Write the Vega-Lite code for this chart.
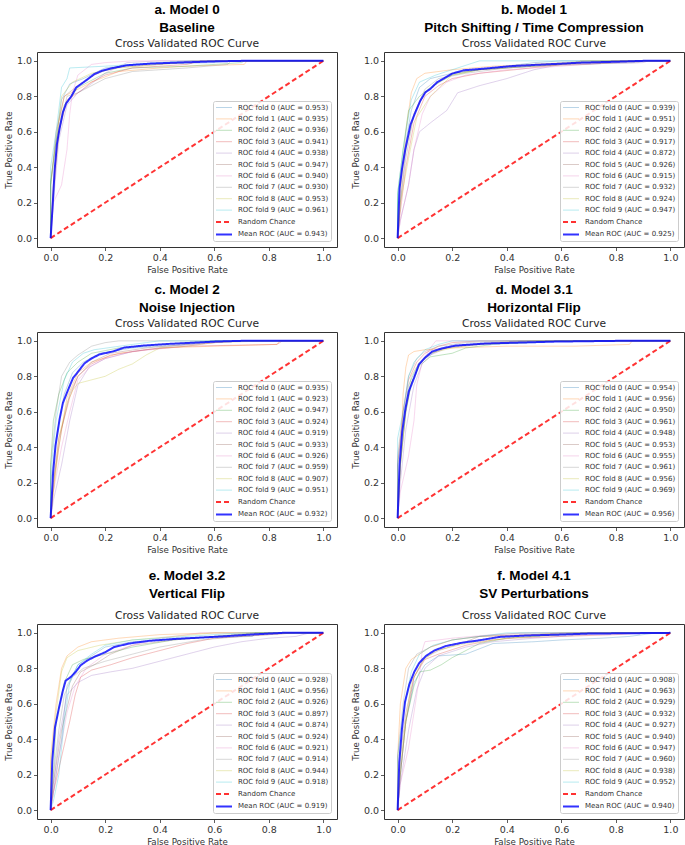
{
"$schema": "https://vega.github.io/schema/vega-lite/v6.json",
"padding": {"left": 3, "top": 2, "right": 0, "bottom": 0},
"datasets": {
"a": [
{"s":"0","x":0,"y":0},{"s":"0","x":0,"y":0.3},{"s":"0","x":0.02,"y":0.55},{"s":"0","x":0.04,"y":0.78},{"s":"0","x":0.07,"y":0.87},{"s":"0","x":0.12,"y":0.9},{"s":"0","x":0.2,"y":0.96},{"s":"0","x":0.3,"y":0.98},{"s":"0","x":0.6,"y":0.99},{"s":"0","x":0.65,"y":1},{"s":"0","x":1,"y":1},
{"s":"1","x":0,"y":0},{"s":"1","x":0.01,"y":0.3},{"s":"1","x":0.03,"y":0.65},{"s":"1","x":0.05,"y":0.8},{"s":"1","x":0.1,"y":0.84},{"s":"1","x":0.15,"y":0.88},{"s":"1","x":0.25,"y":0.94},{"s":"1","x":0.4,"y":0.96},{"s":"1","x":0.5,"y":0.97},{"s":"1","x":0.71,"y":0.98},{"s":"1","x":0.72,"y":1},{"s":"1","x":1,"y":1},
{"s":"2","x":0,"y":0},{"s":"2","x":0,"y":0.32},{"s":"2","x":0.02,"y":0.55},{"s":"2","x":0.05,"y":0.75},{"s":"2","x":0.1,"y":0.85},{"s":"2","x":0.2,"y":0.93},{"s":"2","x":0.3,"y":0.96},{"s":"2","x":0.5,"y":0.97},{"s":"2","x":0.7,"y":0.99},{"s":"2","x":0.71,"y":1},{"s":"2","x":1,"y":1},
{"s":"3","x":0,"y":0},{"s":"3","x":0.01,"y":0.25},{"s":"3","x":0.03,"y":0.6},{"s":"3","x":0.06,"y":0.78},{"s":"3","x":0.11,"y":0.83},{"s":"3","x":0.15,"y":0.88},{"s":"3","x":0.2,"y":0.92},{"s":"3","x":0.3,"y":0.96},{"s":"3","x":0.5,"y":0.98},{"s":"3","x":0.55,"y":1},{"s":"3","x":1,"y":1},
{"s":"4","x":0,"y":0},{"s":"4","x":0.01,"y":0.2},{"s":"4","x":0.03,"y":0.55},{"s":"4","x":0.06,"y":0.75},{"s":"4","x":0.1,"y":0.82},{"s":"4","x":0.14,"y":0.86},{"s":"4","x":0.2,"y":0.93},{"s":"4","x":0.28,"y":0.99},{"s":"4","x":0.4,"y":1},{"s":"4","x":1,"y":1},
{"s":"5","x":0,"y":0},{"s":"5","x":0,"y":0.3},{"s":"5","x":0.02,"y":0.6},{"s":"5","x":0.05,"y":0.8},{"s":"5","x":0.1,"y":0.86},{"s":"5","x":0.16,"y":0.92},{"s":"5","x":0.22,"y":0.96},{"s":"5","x":0.4,"y":0.98},{"s":"5","x":0.52,"y":1},{"s":"5","x":1,"y":1},
{"s":"6","x":0,"y":0},{"s":"6","x":0.01,"y":0.2},{"s":"6","x":0.04,"y":0.3},{"s":"6","x":0.06,"y":0.5},{"s":"6","x":0.07,"y":0.7},{"s":"6","x":0.08,"y":0.82},{"s":"6","x":0.1,"y":0.92},{"s":"6","x":0.15,"y":0.98},{"s":"6","x":0.2,"y":0.99},{"s":"6","x":0.3,"y":1},{"s":"6","x":1,"y":1},
{"s":"7","x":0,"y":0},{"s":"7","x":0.01,"y":0.3},{"s":"7","x":0.03,"y":0.6},{"s":"7","x":0.06,"y":0.8},{"s":"7","x":0.1,"y":0.82},{"s":"7","x":0.15,"y":0.86},{"s":"7","x":0.2,"y":0.9},{"s":"7","x":0.3,"y":0.94},{"s":"7","x":0.5,"y":0.96},{"s":"7","x":0.65,"y":0.98},{"s":"7","x":0.66,"y":1},{"s":"7","x":1,"y":1},
{"s":"8","x":0,"y":0},{"s":"8","x":0,"y":0.3},{"s":"8","x":0.02,"y":0.55},{"s":"8","x":0.04,"y":0.8},{"s":"8","x":0.08,"y":0.88},{"s":"8","x":0.15,"y":0.93},{"s":"8","x":0.25,"y":0.96},{"s":"8","x":0.4,"y":0.98},{"s":"8","x":0.6,"y":1},{"s":"8","x":1,"y":1},
{"s":"9","x":0,"y":0},{"s":"9","x":0,"y":0.4},{"s":"9","x":0.02,"y":0.6},{"s":"9","x":0.04,"y":0.85},{"s":"9","x":0.06,"y":0.9},{"s":"9","x":0.07,"y":0.96},{"s":"9","x":0.2,"y":0.97},{"s":"9","x":0.3,"y":0.98},{"s":"9","x":0.5,"y":1},{"s":"9","x":1,"y":1},
{"s":"R","x":0,"y":0},{"s":"R","x":1,"y":1},
{"s":"M","x":0,"y":0},{"s":"M","x":0.008,"y":0.2},{"s":"M","x":0.015,"y":0.39},{"s":"M","x":0.023,"y":0.53},{"s":"M","x":0.033,"y":0.62},{"s":"M","x":0.045,"y":0.71},{"s":"M","x":0.057,"y":0.76},{"s":"M","x":0.076,"y":0.8},{"s":"M","x":0.094,"y":0.85},{"s":"M","x":0.112,"y":0.87},{"s":"M","x":0.13,"y":0.89},{"s":"M","x":0.16,"y":0.925},{"s":"M","x":0.19,"y":0.945},{"s":"M","x":0.23,"y":0.96},{"s":"M","x":0.28,"y":0.975},{"s":"M","x":0.37,"y":0.985},{"s":"M","x":0.5,"y":0.992},{"s":"M","x":0.6,"y":0.997},{"s":"M","x":0.7,"y":1},{"s":"M","x":1,"y":1}
],
"b": [
{"s":"0","x":0,"y":0},{"s":"0","x":0,"y":0.2},{"s":"0","x":0.02,"y":0.45},{"s":"0","x":0.05,"y":0.72},{"s":"0","x":0.08,"y":0.85},{"s":"0","x":0.12,"y":0.9},{"s":"0","x":0.2,"y":0.93},{"s":"0","x":0.35,"y":0.96},{"s":"0","x":0.5,"y":0.99},{"s":"0","x":0.6,"y":1},{"s":"0","x":1,"y":1},
{"s":"1","x":0,"y":0},{"s":"1","x":0.01,"y":0.25},{"s":"1","x":0.03,"y":0.6},{"s":"1","x":0.05,"y":0.82},{"s":"1","x":0.07,"y":0.9},{"s":"1","x":0.1,"y":0.93},{"s":"1","x":0.2,"y":0.95},{"s":"1","x":0.35,"y":0.97},{"s":"1","x":0.66,"y":0.99},{"s":"1","x":0.67,"y":1},{"s":"1","x":1,"y":1},
{"s":"2","x":0,"y":0},{"s":"2","x":0,"y":0.25},{"s":"2","x":0.02,"y":0.5},{"s":"2","x":0.04,"y":0.72},{"s":"2","x":0.08,"y":0.8},{"s":"2","x":0.12,"y":0.85},{"s":"2","x":0.2,"y":0.92},{"s":"2","x":0.3,"y":0.95},{"s":"2","x":0.5,"y":0.97},{"s":"2","x":0.66,"y":0.99},{"s":"2","x":0.9,"y":1},{"s":"2","x":1,"y":1},
{"s":"3","x":0,"y":0},{"s":"3","x":0.01,"y":0.15},{"s":"3","x":0.03,"y":0.4},{"s":"3","x":0.06,"y":0.65},{"s":"3","x":0.1,"y":0.8},{"s":"3","x":0.15,"y":0.86},{"s":"3","x":0.2,"y":0.9},{"s":"3","x":0.3,"y":0.93},{"s":"3","x":0.43,"y":0.95},{"s":"3","x":0.6,"y":0.98},{"s":"3","x":0.8,"y":1},{"s":"3","x":1,"y":1},
{"s":"4","x":0,"y":0},{"s":"4","x":0.01,"y":0.1},{"s":"4","x":0.04,"y":0.3},{"s":"4","x":0.06,"y":0.5},{"s":"4","x":0.08,"y":0.6},{"s":"4","x":0.12,"y":0.65},{"s":"4","x":0.18,"y":0.72},{"s":"4","x":0.22,"y":0.82},{"s":"4","x":0.3,"y":0.86},{"s":"4","x":0.4,"y":0.9},{"s":"4","x":0.5,"y":0.95},{"s":"4","x":0.6,"y":0.98},{"s":"4","x":0.9,"y":0.99},{"s":"4","x":0.92,"y":1},{"s":"4","x":1,"y":1},
{"s":"5","x":0,"y":0},{"s":"5","x":0.01,"y":0.2},{"s":"5","x":0.03,"y":0.5},{"s":"5","x":0.06,"y":0.7},{"s":"5","x":0.1,"y":0.82},{"s":"5","x":0.15,"y":0.88},{"s":"5","x":0.2,"y":0.93},{"s":"5","x":0.3,"y":0.95},{"s":"5","x":0.5,"y":0.97},{"s":"5","x":0.7,"y":0.98},{"s":"5","x":0.9,"y":1},{"s":"5","x":1,"y":1},
{"s":"6","x":0,"y":0},{"s":"6","x":0.01,"y":0.1},{"s":"6","x":0.04,"y":0.3},{"s":"6","x":0.06,"y":0.5},{"s":"6","x":0.09,"y":0.7},{"s":"6","x":0.12,"y":0.8},{"s":"6","x":0.18,"y":0.88},{"s":"6","x":0.25,"y":0.92},{"s":"6","x":0.4,"y":0.95},{"s":"6","x":0.6,"y":0.97},{"s":"6","x":0.85,"y":1},{"s":"6","x":1,"y":1},
{"s":"7","x":0,"y":0},{"s":"7","x":0.01,"y":0.2},{"s":"7","x":0.03,"y":0.45},{"s":"7","x":0.06,"y":0.7},{"s":"7","x":0.1,"y":0.84},{"s":"7","x":0.15,"y":0.9},{"s":"7","x":0.25,"y":0.93},{"s":"7","x":0.4,"y":0.96},{"s":"7","x":0.6,"y":0.98},{"s":"7","x":0.88,"y":0.99},{"s":"7","x":0.9,"y":1},{"s":"7","x":1,"y":1},
{"s":"8","x":0,"y":0},{"s":"8","x":0.01,"y":0.2},{"s":"8","x":0.04,"y":0.45},{"s":"8","x":0.07,"y":0.68},{"s":"8","x":0.12,"y":0.8},{"s":"8","x":0.16,"y":0.86},{"s":"8","x":0.2,"y":0.92},{"s":"8","x":0.3,"y":0.95},{"s":"8","x":0.5,"y":0.98},{"s":"8","x":0.7,"y":1},{"s":"8","x":1,"y":1},
{"s":"9","x":0,"y":0},{"s":"9","x":0,"y":0.25},{"s":"9","x":0.02,"y":0.5},{"s":"9","x":0.05,"y":0.78},{"s":"9","x":0.08,"y":0.88},{"s":"9","x":0.14,"y":0.92},{"s":"9","x":0.2,"y":0.95},{"s":"9","x":0.3,"y":1},{"s":"9","x":1,"y":1},
{"s":"R","x":0,"y":0},{"s":"R","x":1,"y":1},
{"s":"M","x":0,"y":0},{"s":"M","x":0.007,"y":0.28},{"s":"M","x":0.016,"y":0.39},{"s":"M","x":0.028,"y":0.5},{"s":"M","x":0.047,"y":0.64},{"s":"M","x":0.065,"y":0.71},{"s":"M","x":0.083,"y":0.775},{"s":"M","x":0.102,"y":0.823},{"s":"M","x":0.12,"y":0.842},{"s":"M","x":0.145,"y":0.88},{"s":"M","x":0.169,"y":0.9},{"s":"M","x":0.2,"y":0.928},{"s":"M","x":0.243,"y":0.947},{"s":"M","x":0.316,"y":0.956},{"s":"M","x":0.414,"y":0.97},{"s":"M","x":0.5,"y":0.977},{"s":"M","x":0.61,"y":0.985},{"s":"M","x":0.67,"y":0.99},{"s":"M","x":0.8,"y":0.995},{"s":"M","x":0.9,"y":1},{"s":"M","x":1,"y":1}
],
"c": [
{"s":"0","x":0,"y":0},{"s":"0","x":0,"y":0.2},{"s":"0","x":0.02,"y":0.45},{"s":"0","x":0.05,"y":0.7},{"s":"0","x":0.08,"y":0.82},{"s":"0","x":0.12,"y":0.88},{"s":"0","x":0.18,"y":0.93},{"s":"0","x":0.3,"y":0.96},{"s":"0","x":0.5,"y":0.98},{"s":"0","x":0.6,"y":1},{"s":"0","x":1,"y":1},
{"s":"1","x":0,"y":0},{"s":"1","x":0.01,"y":0.15},{"s":"1","x":0.03,"y":0.4},{"s":"1","x":0.06,"y":0.68},{"s":"1","x":0.1,"y":0.82},{"s":"1","x":0.15,"y":0.88},{"s":"1","x":0.25,"y":0.93},{"s":"1","x":0.4,"y":0.96},{"s":"1","x":0.6,"y":0.97},{"s":"1","x":0.83,"y":0.98},{"s":"1","x":0.84,"y":1},{"s":"1","x":1,"y":1},
{"s":"2","x":0,"y":0},{"s":"2","x":0,"y":0.3},{"s":"2","x":0.01,"y":0.55},{"s":"2","x":0.03,"y":0.7},{"s":"2","x":0.06,"y":0.82},{"s":"2","x":0.1,"y":0.88},{"s":"2","x":0.15,"y":0.93},{"s":"2","x":0.25,"y":0.96},{"s":"2","x":0.4,"y":0.98},{"s":"2","x":0.6,"y":1},{"s":"2","x":1,"y":1},
{"s":"3","x":0,"y":0},{"s":"3","x":0.01,"y":0.2},{"s":"3","x":0.03,"y":0.45},{"s":"3","x":0.07,"y":0.68},{"s":"3","x":0.1,"y":0.8},{"s":"3","x":0.15,"y":0.87},{"s":"3","x":0.22,"y":0.92},{"s":"3","x":0.35,"y":0.95},{"s":"3","x":0.5,"y":0.97},{"s":"3","x":0.83,"y":0.98},{"s":"3","x":0.85,"y":1},{"s":"3","x":1,"y":1},
{"s":"4","x":0,"y":0},{"s":"4","x":0.01,"y":0.1},{"s":"4","x":0.04,"y":0.3},{"s":"4","x":0.07,"y":0.55},{"s":"4","x":0.1,"y":0.75},{"s":"4","x":0.14,"y":0.85},{"s":"4","x":0.2,"y":0.9},{"s":"4","x":0.3,"y":0.94},{"s":"4","x":0.45,"y":0.97},{"s":"4","x":0.6,"y":0.99},{"s":"4","x":0.7,"y":1},{"s":"4","x":1,"y":1},
{"s":"5","x":0,"y":0},{"s":"5","x":0.01,"y":0.2},{"s":"5","x":0.04,"y":0.5},{"s":"5","x":0.07,"y":0.7},{"s":"5","x":0.1,"y":0.8},{"s":"5","x":0.15,"y":0.88},{"s":"5","x":0.22,"y":0.93},{"s":"5","x":0.35,"y":0.96},{"s":"5","x":0.5,"y":0.98},{"s":"5","x":0.7,"y":1},{"s":"5","x":1,"y":1},
{"s":"6","x":0,"y":0},{"s":"6","x":0.01,"y":0.15},{"s":"6","x":0.04,"y":0.4},{"s":"6","x":0.07,"y":0.6},{"s":"6","x":0.1,"y":0.78},{"s":"6","x":0.15,"y":0.86},{"s":"6","x":0.2,"y":0.9},{"s":"6","x":0.3,"y":0.94},{"s":"6","x":0.5,"y":0.97},{"s":"6","x":0.65,"y":1},{"s":"6","x":1,"y":1},
{"s":"7","x":0,"y":0},{"s":"7","x":0,"y":0.3},{"s":"7","x":0.02,"y":0.6},{"s":"7","x":0.04,"y":0.8},{"s":"7","x":0.07,"y":0.88},{"s":"7","x":0.1,"y":0.92},{"s":"7","x":0.15,"y":0.97},{"s":"7","x":0.2,"y":0.99},{"s":"7","x":0.25,"y":1},{"s":"7","x":1,"y":1},
{"s":"8","x":0,"y":0},{"s":"8","x":0.01,"y":0.15},{"s":"8","x":0.03,"y":0.45},{"s":"8","x":0.06,"y":0.65},{"s":"8","x":0.08,"y":0.72},{"s":"8","x":0.1,"y":0.76},{"s":"8","x":0.15,"y":0.78},{"s":"8","x":0.2,"y":0.8},{"s":"8","x":0.25,"y":0.84},{"s":"8","x":0.3,"y":0.87},{"s":"8","x":0.35,"y":0.92},{"s":"8","x":0.4,"y":0.96},{"s":"8","x":0.5,"y":0.97},{"s":"8","x":0.6,"y":0.99},{"s":"8","x":0.8,"y":1},{"s":"8","x":1,"y":1},
{"s":"9","x":0,"y":0},{"s":"9","x":0,"y":0.25},{"s":"9","x":0.02,"y":0.55},{"s":"9","x":0.05,"y":0.78},{"s":"9","x":0.08,"y":0.88},{"s":"9","x":0.12,"y":0.93},{"s":"9","x":0.16,"y":0.95},{"s":"9","x":0.3,"y":0.98},{"s":"9","x":0.4,"y":1},{"s":"9","x":1,"y":1},
{"s":"R","x":0,"y":0},{"s":"R","x":1,"y":1},
{"s":"M","x":0,"y":0},{"s":"M","x":0.009,"y":0.256},{"s":"M","x":0.018,"y":0.41},{"s":"M","x":0.033,"y":0.56},{"s":"M","x":0.045,"y":0.65},{"s":"M","x":0.063,"y":0.72},{"s":"M","x":0.082,"y":0.79},{"s":"M","x":0.1,"y":0.825},{"s":"M","x":0.124,"y":0.873},{"s":"M","x":0.149,"y":0.9},{"s":"M","x":0.18,"y":0.924},{"s":"M","x":0.228,"y":0.94},{"s":"M","x":0.27,"y":0.962},{"s":"M","x":0.338,"y":0.973},{"s":"M","x":0.435,"y":0.983},{"s":"M","x":0.606,"y":0.996},{"s":"M","x":0.7,"y":1},{"s":"M","x":1,"y":1}
],
"d": [
{"s":"0","x":0,"y":0},{"s":"0","x":0,"y":0.3},{"s":"0","x":0.02,"y":0.55},{"s":"0","x":0.04,"y":0.75},{"s":"0","x":0.07,"y":0.85},{"s":"0","x":0.1,"y":0.9},{"s":"0","x":0.15,"y":0.95},{"s":"0","x":0.25,"y":0.98},{"s":"0","x":0.5,"y":0.99},{"s":"0","x":0.6,"y":1},{"s":"0","x":1,"y":1},
{"s":"1","x":0,"y":0},{"s":"1","x":0.01,"y":0.3},{"s":"1","x":0.02,"y":0.7},{"s":"1","x":0.03,"y":0.85},{"s":"1","x":0.04,"y":0.92},{"s":"1","x":0.06,"y":0.94},{"s":"1","x":0.1,"y":0.95},{"s":"1","x":0.2,"y":0.96},{"s":"1","x":0.4,"y":0.97},{"s":"1","x":0.65,"y":0.97},{"s":"1","x":0.85,"y":0.98},{"s":"1","x":0.86,"y":1},{"s":"1","x":1,"y":1},
{"s":"2","x":0,"y":0},{"s":"2","x":0.01,"y":0.3},{"s":"2","x":0.03,"y":0.6},{"s":"2","x":0.05,"y":0.76},{"s":"2","x":0.08,"y":0.86},{"s":"2","x":0.12,"y":0.91},{"s":"2","x":0.2,"y":0.93},{"s":"2","x":0.25,"y":0.96},{"s":"2","x":0.35,"y":0.98},{"s":"2","x":0.6,"y":1},{"s":"2","x":1,"y":1},
{"s":"3","x":0,"y":0},{"s":"3","x":0,"y":0.3},{"s":"3","x":0.02,"y":0.6},{"s":"3","x":0.04,"y":0.78},{"s":"3","x":0.07,"y":0.88},{"s":"3","x":0.1,"y":0.93},{"s":"3","x":0.15,"y":0.97},{"s":"3","x":0.2,"y":0.99},{"s":"3","x":0.3,"y":1},{"s":"3","x":1,"y":1},
{"s":"4","x":0,"y":0},{"s":"4","x":0.01,"y":0.2},{"s":"4","x":0.03,"y":0.5},{"s":"4","x":0.06,"y":0.75},{"s":"4","x":0.09,"y":0.87},{"s":"4","x":0.12,"y":0.92},{"s":"4","x":0.18,"y":0.96},{"s":"4","x":0.3,"y":0.98},{"s":"4","x":0.5,"y":1},{"s":"4","x":1,"y":1},
{"s":"5","x":0,"y":0},{"s":"5","x":0.01,"y":0.3},{"s":"5","x":0.03,"y":0.6},{"s":"5","x":0.05,"y":0.76},{"s":"5","x":0.08,"y":0.87},{"s":"5","x":0.12,"y":0.93},{"s":"5","x":0.2,"y":0.97},{"s":"5","x":0.35,"y":0.99},{"s":"5","x":0.45,"y":1},{"s":"5","x":1,"y":1},
{"s":"6","x":0,"y":0},{"s":"6","x":0.01,"y":0.15},{"s":"6","x":0.04,"y":0.35},{"s":"6","x":0.06,"y":0.55},{"s":"6","x":0.07,"y":0.75},{"s":"6","x":0.09,"y":0.88},{"s":"6","x":0.12,"y":0.96},{"s":"6","x":0.14,"y":1},{"s":"6","x":1,"y":1},
{"s":"7","x":0,"y":0},{"s":"7","x":0,"y":0.35},{"s":"7","x":0.02,"y":0.6},{"s":"7","x":0.04,"y":0.8},{"s":"7","x":0.07,"y":0.9},{"s":"7","x":0.1,"y":0.94},{"s":"7","x":0.15,"y":0.97},{"s":"7","x":0.25,"y":0.99},{"s":"7","x":0.4,"y":1},{"s":"7","x":1,"y":1},
{"s":"8","x":0,"y":0},{"s":"8","x":0.01,"y":0.3},{"s":"8","x":0.03,"y":0.62},{"s":"8","x":0.05,"y":0.8},{"s":"8","x":0.08,"y":0.88},{"s":"8","x":0.12,"y":0.93},{"s":"8","x":0.2,"y":0.96},{"s":"8","x":0.3,"y":0.98},{"s":"8","x":0.5,"y":1},{"s":"8","x":1,"y":1},
{"s":"9","x":0,"y":0},{"s":"9","x":0,"y":0.45},{"s":"9","x":0.02,"y":0.6},{"s":"9","x":0.04,"y":0.8},{"s":"9","x":0.06,"y":0.88},{"s":"9","x":0.1,"y":0.95},{"s":"9","x":0.15,"y":0.98},{"s":"9","x":0.2,"y":1},{"s":"9","x":1,"y":1},
{"s":"R","x":0,"y":0},{"s":"R","x":1,"y":1},
{"s":"M","x":0,"y":0},{"s":"M","x":0.007,"y":0.3},{"s":"M","x":0.017,"y":0.49},{"s":"M","x":0.029,"y":0.62},{"s":"M","x":0.041,"y":0.715},{"s":"M","x":0.06,"y":0.79},{"s":"M","x":0.078,"y":0.867},{"s":"M","x":0.1,"y":0.905},{"s":"M","x":0.127,"y":0.94},{"s":"M","x":0.163,"y":0.958},{"s":"M","x":0.21,"y":0.973},{"s":"M","x":0.322,"y":0.985},{"s":"M","x":0.58,"y":0.996},{"s":"M","x":0.8,"y":1},{"s":"M","x":1,"y":1}
],
"e": [
{"s":"0","x":0,"y":0},{"s":"0","x":0.01,"y":0.1},{"s":"0","x":0.04,"y":0.4},{"s":"0","x":0.06,"y":0.7},{"s":"0","x":0.1,"y":0.82},{"s":"0","x":0.15,"y":0.87},{"s":"0","x":0.2,"y":0.92},{"s":"0","x":0.3,"y":0.95},{"s":"0","x":0.5,"y":0.97},{"s":"0","x":0.74,"y":0.98},{"s":"0","x":0.75,"y":1},{"s":"0","x":1,"y":1},
{"s":"1","x":0,"y":0},{"s":"1","x":0,"y":0.3},{"s":"1","x":0.02,"y":0.6},{"s":"1","x":0.04,"y":0.8},{"s":"1","x":0.06,"y":0.87},{"s":"1","x":0.1,"y":0.92},{"s":"1","x":0.15,"y":0.95},{"s":"1","x":0.25,"y":0.97},{"s":"1","x":0.4,"y":0.99},{"s":"1","x":0.6,"y":1},{"s":"1","x":1,"y":1},
{"s":"2","x":0,"y":0},{"s":"2","x":0.01,"y":0.2},{"s":"2","x":0.02,"y":0.5},{"s":"2","x":0.05,"y":0.72},{"s":"2","x":0.08,"y":0.82},{"s":"2","x":0.12,"y":0.85},{"s":"2","x":0.2,"y":0.88},{"s":"2","x":0.3,"y":0.92},{"s":"2","x":0.45,"y":0.96},{"s":"2","x":0.6,"y":0.98},{"s":"2","x":0.75,"y":1},{"s":"2","x":1,"y":1},
{"s":"3","x":0,"y":0},{"s":"3","x":0.01,"y":0.1},{"s":"3","x":0.04,"y":0.3},{"s":"3","x":0.07,"y":0.5},{"s":"3","x":0.09,"y":0.65},{"s":"3","x":0.11,"y":0.75},{"s":"3","x":0.15,"y":0.79},{"s":"3","x":0.22,"y":0.82},{"s":"3","x":0.3,"y":0.86},{"s":"3","x":0.4,"y":0.9},{"s":"3","x":0.5,"y":0.94},{"s":"3","x":0.6,"y":0.97},{"s":"3","x":0.8,"y":0.99},{"s":"3","x":0.9,"y":1},{"s":"3","x":1,"y":1},
{"s":"4","x":0,"y":0},{"s":"4","x":0.01,"y":0.15},{"s":"4","x":0.03,"y":0.4},{"s":"4","x":0.06,"y":0.65},{"s":"4","x":0.1,"y":0.72},{"s":"4","x":0.15,"y":0.76},{"s":"4","x":0.22,"y":0.78},{"s":"4","x":0.3,"y":0.8},{"s":"4","x":0.4,"y":0.84},{"s":"4","x":0.5,"y":0.88},{"s":"4","x":0.6,"y":0.92},{"s":"4","x":0.7,"y":0.95},{"s":"4","x":0.8,"y":0.97},{"s":"4","x":0.9,"y":0.98},{"s":"4","x":0.95,"y":1},{"s":"4","x":1,"y":1},
{"s":"5","x":0,"y":0},{"s":"5","x":0.01,"y":0.15},{"s":"5","x":0.04,"y":0.45},{"s":"5","x":0.08,"y":0.7},{"s":"5","x":0.11,"y":0.78},{"s":"5","x":0.16,"y":0.82},{"s":"5","x":0.22,"y":0.88},{"s":"5","x":0.3,"y":0.93},{"s":"5","x":0.45,"y":0.96},{"s":"5","x":0.6,"y":0.98},{"s":"5","x":0.8,"y":1},{"s":"5","x":1,"y":1},
{"s":"6","x":0,"y":0},{"s":"6","x":0.01,"y":0.1},{"s":"6","x":0.03,"y":0.3},{"s":"6","x":0.06,"y":0.55},{"s":"6","x":0.09,"y":0.7},{"s":"6","x":0.13,"y":0.8},{"s":"6","x":0.2,"y":0.88},{"s":"6","x":0.3,"y":0.93},{"s":"6","x":0.4,"y":0.97},{"s":"6","x":0.5,"y":0.99},{"s":"6","x":0.55,"y":1},{"s":"6","x":1,"y":1},
{"s":"7","x":0,"y":0},{"s":"7","x":0.01,"y":0.2},{"s":"7","x":0.03,"y":0.45},{"s":"7","x":0.05,"y":0.65},{"s":"7","x":0.08,"y":0.75},{"s":"7","x":0.12,"y":0.8},{"s":"7","x":0.2,"y":0.84},{"s":"7","x":0.3,"y":0.88},{"s":"7","x":0.4,"y":0.92},{"s":"7","x":0.55,"y":0.96},{"s":"7","x":0.7,"y":0.98},{"s":"7","x":0.9,"y":1},{"s":"7","x":1,"y":1},
{"s":"8","x":0,"y":0},{"s":"8","x":0,"y":0.25},{"s":"8","x":0.02,"y":0.55},{"s":"8","x":0.04,"y":0.78},{"s":"8","x":0.06,"y":0.86},{"s":"8","x":0.1,"y":0.9},{"s":"8","x":0.18,"y":0.93},{"s":"8","x":0.3,"y":0.96},{"s":"8","x":0.45,"y":0.98},{"s":"8","x":0.6,"y":1},{"s":"8","x":1,"y":1},
{"s":"9","x":0,"y":0},{"s":"9","x":0.01,"y":0.05},{"s":"9","x":0.03,"y":0.2},{"s":"9","x":0.05,"y":0.5},{"s":"9","x":0.07,"y":0.72},{"s":"9","x":0.1,"y":0.82},{"s":"9","x":0.15,"y":0.88},{"s":"9","x":0.2,"y":0.93},{"s":"9","x":0.3,"y":0.96},{"s":"9","x":0.5,"y":0.98},{"s":"9","x":0.7,"y":1},{"s":"9","x":1,"y":1},
{"s":"R","x":0,"y":0},{"s":"R","x":1,"y":1},
{"s":"M","x":0,"y":0},{"s":"M","x":0.006,"y":0.278},{"s":"M","x":0.016,"y":0.467},{"s":"M","x":0.031,"y":0.58},{"s":"M","x":0.045,"y":0.675},{"s":"M","x":0.055,"y":0.73},{"s":"M","x":0.073,"y":0.75},{"s":"M","x":0.092,"y":0.78},{"s":"M","x":0.11,"y":0.817},{"s":"M","x":0.135,"y":0.845},{"s":"M","x":0.165,"y":0.868},{"s":"M","x":0.202,"y":0.892},{"s":"M","x":0.233,"y":0.92},{"s":"M","x":0.288,"y":0.94},{"s":"M","x":0.361,"y":0.955},{"s":"M","x":0.459,"y":0.966},{"s":"M","x":0.63,"y":0.98},{"s":"M","x":0.73,"y":0.99},{"s":"M","x":0.85,"y":1},{"s":"M","x":1,"y":1}
],
"f": [
{"s":"0","x":0,"y":0},{"s":"0","x":0.01,"y":0.2},{"s":"0","x":0.03,"y":0.5},{"s":"0","x":0.06,"y":0.72},{"s":"0","x":0.1,"y":0.82},{"s":"0","x":0.15,"y":0.87},{"s":"0","x":0.25,"y":0.88},{"s":"0","x":0.35,"y":0.94},{"s":"0","x":0.5,"y":0.95},{"s":"0","x":0.6,"y":0.96},{"s":"0","x":0.75,"y":0.97},{"s":"0","x":0.85,"y":0.98},{"s":"0","x":0.95,"y":1},{"s":"0","x":1,"y":1},
{"s":"1","x":0,"y":0},{"s":"1","x":0,"y":0.3},{"s":"1","x":0.01,"y":0.6},{"s":"1","x":0.03,"y":0.8},{"s":"1","x":0.05,"y":0.85},{"s":"1","x":0.08,"y":0.88},{"s":"1","x":0.12,"y":0.92},{"s":"1","x":0.2,"y":0.96},{"s":"1","x":0.3,"y":0.98},{"s":"1","x":0.5,"y":0.99},{"s":"1","x":0.6,"y":1},{"s":"1","x":1,"y":1},
{"s":"2","x":0,"y":0},{"s":"2","x":0.01,"y":0.2},{"s":"2","x":0.03,"y":0.5},{"s":"2","x":0.06,"y":0.7},{"s":"2","x":0.08,"y":0.78},{"s":"2","x":0.12,"y":0.79},{"s":"2","x":0.16,"y":0.82},{"s":"2","x":0.2,"y":0.86},{"s":"2","x":0.25,"y":0.9},{"s":"2","x":0.3,"y":0.94},{"s":"2","x":0.4,"y":0.97},{"s":"2","x":0.6,"y":0.99},{"s":"2","x":0.7,"y":1},{"s":"2","x":1,"y":1},
{"s":"3","x":0,"y":0},{"s":"3","x":0.01,"y":0.2},{"s":"3","x":0.03,"y":0.5},{"s":"3","x":0.06,"y":0.75},{"s":"3","x":0.1,"y":0.85},{"s":"3","x":0.15,"y":0.88},{"s":"3","x":0.25,"y":0.93},{"s":"3","x":0.35,"y":0.96},{"s":"3","x":0.42,"y":0.97},{"s":"3","x":0.6,"y":0.98},{"s":"3","x":0.8,"y":0.99},{"s":"3","x":0.9,"y":1},{"s":"3","x":1,"y":1},
{"s":"4","x":0,"y":0},{"s":"4","x":0.01,"y":0.15},{"s":"4","x":0.04,"y":0.45},{"s":"4","x":0.07,"y":0.68},{"s":"4","x":0.1,"y":0.8},{"s":"4","x":0.15,"y":0.87},{"s":"4","x":0.25,"y":0.92},{"s":"4","x":0.35,"y":0.95},{"s":"4","x":0.5,"y":0.97},{"s":"4","x":0.7,"y":0.99},{"s":"4","x":0.85,"y":1},{"s":"4","x":1,"y":1},
{"s":"5","x":0,"y":0},{"s":"5","x":0.01,"y":0.3},{"s":"5","x":0.03,"y":0.55},{"s":"5","x":0.06,"y":0.75},{"s":"5","x":0.1,"y":0.86},{"s":"5","x":0.15,"y":0.9},{"s":"5","x":0.25,"y":0.95},{"s":"5","x":0.3,"y":0.98},{"s":"5","x":0.5,"y":0.99},{"s":"5","x":0.65,"y":1},{"s":"5","x":1,"y":1},
{"s":"6","x":0,"y":0},{"s":"6","x":0.01,"y":0.15},{"s":"6","x":0.04,"y":0.35},{"s":"6","x":0.06,"y":0.55},{"s":"6","x":0.08,"y":0.75},{"s":"6","x":0.09,"y":0.9},{"s":"6","x":0.1,"y":0.95},{"s":"6","x":0.2,"y":0.97},{"s":"6","x":0.35,"y":0.99},{"s":"6","x":0.5,"y":1},{"s":"6","x":1,"y":1},
{"s":"7","x":0,"y":0},{"s":"7","x":0,"y":0.3},{"s":"7","x":0.02,"y":0.6},{"s":"7","x":0.04,"y":0.8},{"s":"7","x":0.07,"y":0.88},{"s":"7","x":0.12,"y":0.92},{"s":"7","x":0.2,"y":0.96},{"s":"7","x":0.3,"y":0.98},{"s":"7","x":0.45,"y":1},{"s":"7","x":1,"y":1},
{"s":"8","x":0,"y":0},{"s":"8","x":0.01,"y":0.25},{"s":"8","x":0.03,"y":0.5},{"s":"8","x":0.05,"y":0.72},{"s":"8","x":0.09,"y":0.84},{"s":"8","x":0.14,"y":0.9},{"s":"8","x":0.25,"y":0.94},{"s":"8","x":0.4,"y":0.97},{"s":"8","x":0.6,"y":0.99},{"s":"8","x":0.8,"y":1},{"s":"8","x":1,"y":1},
{"s":"9","x":0,"y":0},{"s":"9","x":0,"y":0.3},{"s":"9","x":0.02,"y":0.55},{"s":"9","x":0.05,"y":0.78},{"s":"9","x":0.08,"y":0.88},{"s":"9","x":0.13,"y":0.93},{"s":"9","x":0.2,"y":0.96},{"s":"9","x":0.3,"y":0.98},{"s":"9","x":0.4,"y":1},{"s":"9","x":1,"y":1},
{"s":"R","x":0,"y":0},{"s":"R","x":1,"y":1},
{"s":"M","x":0,"y":0},{"s":"M","x":0.006,"y":0.27},{"s":"M","x":0.016,"y":0.46},{"s":"M","x":0.027,"y":0.61},{"s":"M","x":0.043,"y":0.71},{"s":"M","x":0.061,"y":0.78},{"s":"M","x":0.079,"y":0.83},{"s":"M","x":0.104,"y":0.87},{"s":"M","x":0.134,"y":0.9},{"s":"M","x":0.177,"y":0.926},{"s":"M","x":0.238,"y":0.945},{"s":"M","x":0.3,"y":0.958},{"s":"M","x":0.373,"y":0.977},{"s":"M","x":0.47,"y":0.985},{"s":"M","x":0.59,"y":0.99},{"s":"M","x":0.7,"y":0.996},{"s":"M","x":1,"y":1}
]
},
"vconcat": [
{"vconcat": [
{"hconcat": [
{"data": {"name": "a"}, "width": 300, "height": 195,
"title": {"text": ["a. Model 0", "Baseline"], "subtitle": "Cross Validated ROC Curve"},
"mark": {"type": "line"},
"encoding": {
"x": {"field": "x", "type": "quantitative", "scale": {"domain": [-0.05, 1.05], "nice": false, "zero": false}, "axis": {"title": "False Positive Rate", "values": [0, 0.2, 0.4, 0.6, 0.8, 1], "format": ".1f"}},
"y": {"field": "y", "type": "quantitative", "scale": {"domain": [-0.05, 1.05], "nice": false, "zero": false}, "axis": {"title": "True Positive Rate", "values": [0, 0.2, 0.4, 0.6, 0.8, 1], "format": ".1f"}},
"order": {"value": null},
"color": {"field": "s", "type": "nominal", "scale": {"domain": ["0","1","2","3","4","5","6","7","8","9","R","M"], "range": ["#1f77b4","#ff7f0e","#2ca02c","#d62728","#9467bd","#8c564b","#e377c2","#7f7f7f","#bcbd22","#17becf","#ff0000","#0000ff"]}, "legend": {"title": null, "labelExpr": "datum.label=='R'?'Random Chance':datum.label=='M'?'Mean ROC (AUC = 0.943)':'ROC fold '+datum.label+' (AUC = '+['0.953','0.935','0.936','0.941','0.938','0.947','0.940','0.930','0.953','0.961'][toNumber(datum.label)]+')'"}},
"opacity": {"field": "s", "type": "nominal", "scale": {"type": "ordinal", "domain": ["0","1","2","3","4","5","6","7","8","9","R","M"], "range": [0.3,0.3,0.3,0.3,0.3,0.3,0.3,0.3,0.3,0.3,0.8,0.8]}, "legend": {"title": null, "labelExpr": "datum.label=='R'?'Random Chance':datum.label=='M'?'Mean ROC (AUC = 0.943)':'ROC fold '+datum.label+' (AUC = '+['0.953','0.935','0.936','0.941','0.938','0.947','0.940','0.930','0.953','0.961'][toNumber(datum.label)]+')'"}},
"strokeWidth": {"field": "s", "type": "nominal", "scale": {"type": "ordinal", "domain": ["0","1","2","3","4","5","6","7","8","9","R","M"], "range": [1,1,1,1,1,1,1,1,1,1,2,2]}, "legend": {"title": null, "labelExpr": "datum.label=='R'?'Random Chance':datum.label=='M'?'Mean ROC (AUC = 0.943)':'ROC fold '+datum.label+' (AUC = '+['0.953','0.935','0.936','0.941','0.938','0.947','0.940','0.930','0.953','0.961'][toNumber(datum.label)]+')'"}},
"strokeDash": {"field": "s", "type": "nominal", "scale": {"domain": ["0","1","2","3","4","5","6","7","8","9","R","M"], "range": [[1,0],[1,0],[1,0],[1,0],[1,0],[1,0],[1,0],[1,0],[1,0],[1,0],[5,3],[1,0]]}, "legend": {"title": null, "labelExpr": "datum.label=='R'?'Random Chance':datum.label=='M'?'Mean ROC (AUC = 0.943)':'ROC fold '+datum.label+' (AUC = '+['0.953','0.935','0.936','0.941','0.938','0.947','0.940','0.930','0.953','0.961'][toNumber(datum.label)]+')'"}}
}},
{"data": {"name": "b"}, "width": 300, "height": 195,
"title": {"text": ["b. Model 1", "Pitch Shifting / Time Compression"], "subtitle": "Cross Validated ROC Curve"},
"mark": {"type": "line"},
"encoding": {
"x": {"field": "x", "type": "quantitative", "scale": {"domain": [-0.05, 1.05], "nice": false, "zero": false}, "axis": {"title": "False Positive Rate", "values": [0, 0.2, 0.4, 0.6, 0.8, 1], "format": ".1f"}},
"y": {"field": "y", "type": "quantitative", "scale": {"domain": [-0.05, 1.05], "nice": false, "zero": false}, "axis": {"title": "True Positive Rate", "values": [0, 0.2, 0.4, 0.6, 0.8, 1], "format": ".1f"}},
"order": {"value": null},
"color": {"field": "s", "type": "nominal", "scale": {"domain": ["0","1","2","3","4","5","6","7","8","9","R","M"], "range": ["#1f77b4","#ff7f0e","#2ca02c","#d62728","#9467bd","#8c564b","#e377c2","#7f7f7f","#bcbd22","#17becf","#ff0000","#0000ff"]}, "legend": {"title": null, "labelExpr": "datum.label=='R'?'Random Chance':datum.label=='M'?'Mean ROC (AUC = 0.925)':'ROC fold '+datum.label+' (AUC = '+['0.939','0.951','0.929','0.917','0.872','0.926','0.915','0.932','0.924','0.947'][toNumber(datum.label)]+')'"}},
"opacity": {"field": "s", "type": "nominal", "scale": {"type": "ordinal", "domain": ["0","1","2","3","4","5","6","7","8","9","R","M"], "range": [0.3,0.3,0.3,0.3,0.3,0.3,0.3,0.3,0.3,0.3,0.8,0.8]}, "legend": {"title": null, "labelExpr": "datum.label=='R'?'Random Chance':datum.label=='M'?'Mean ROC (AUC = 0.925)':'ROC fold '+datum.label+' (AUC = '+['0.939','0.951','0.929','0.917','0.872','0.926','0.915','0.932','0.924','0.947'][toNumber(datum.label)]+')'"}},
"strokeWidth": {"field": "s", "type": "nominal", "scale": {"type": "ordinal", "domain": ["0","1","2","3","4","5","6","7","8","9","R","M"], "range": [1,1,1,1,1,1,1,1,1,1,2,2]}, "legend": {"title": null, "labelExpr": "datum.label=='R'?'Random Chance':datum.label=='M'?'Mean ROC (AUC = 0.925)':'ROC fold '+datum.label+' (AUC = '+['0.939','0.951','0.929','0.917','0.872','0.926','0.915','0.932','0.924','0.947'][toNumber(datum.label)]+')'"}},
"strokeDash": {"field": "s", "type": "nominal", "scale": {"domain": ["0","1","2","3","4","5","6","7","8","9","R","M"], "range": [[1,0],[1,0],[1,0],[1,0],[1,0],[1,0],[1,0],[1,0],[1,0],[1,0],[5,3],[1,0]]}, "legend": {"title": null, "labelExpr": "datum.label=='R'?'Random Chance':datum.label=='M'?'Mean ROC (AUC = 0.925)':'ROC fold '+datum.label+' (AUC = '+['0.939','0.951','0.929','0.917','0.872','0.926','0.915','0.932','0.924','0.947'][toNumber(datum.label)]+')'"}}
}}
], "spacing": 12, "resolve": {"scale": {"color": "independent", "opacity": "independent", "strokeWidth": "independent", "strokeDash": "independent"}}},
{"hconcat": [
{"data": {"name": "c"}, "width": 300, "height": 195,
"title": {"text": ["c. Model 2", "Noise Injection"], "subtitle": "Cross Validated ROC Curve"},
"mark": {"type": "line"},
"encoding": {
"x": {"field": "x", "type": "quantitative", "scale": {"domain": [-0.05, 1.05], "nice": false, "zero": false}, "axis": {"title": "False Positive Rate", "values": [0, 0.2, 0.4, 0.6, 0.8, 1], "format": ".1f"}},
"y": {"field": "y", "type": "quantitative", "scale": {"domain": [-0.05, 1.05], "nice": false, "zero": false}, "axis": {"title": "True Positive Rate", "values": [0, 0.2, 0.4, 0.6, 0.8, 1], "format": ".1f"}},
"order": {"value": null},
"color": {"field": "s", "type": "nominal", "scale": {"domain": ["0","1","2","3","4","5","6","7","8","9","R","M"], "range": ["#1f77b4","#ff7f0e","#2ca02c","#d62728","#9467bd","#8c564b","#e377c2","#7f7f7f","#bcbd22","#17becf","#ff0000","#0000ff"]}, "legend": {"title": null, "labelExpr": "datum.label=='R'?'Random Chance':datum.label=='M'?'Mean ROC (AUC = 0.932)':'ROC fold '+datum.label+' (AUC = '+['0.935','0.923','0.947','0.924','0.919','0.933','0.926','0.959','0.907','0.951'][toNumber(datum.label)]+')'"}},
"opacity": {"field": "s", "type": "nominal", "scale": {"type": "ordinal", "domain": ["0","1","2","3","4","5","6","7","8","9","R","M"], "range": [0.3,0.3,0.3,0.3,0.3,0.3,0.3,0.3,0.3,0.3,0.8,0.8]}, "legend": {"title": null, "labelExpr": "datum.label=='R'?'Random Chance':datum.label=='M'?'Mean ROC (AUC = 0.932)':'ROC fold '+datum.label+' (AUC = '+['0.935','0.923','0.947','0.924','0.919','0.933','0.926','0.959','0.907','0.951'][toNumber(datum.label)]+')'"}},
"strokeWidth": {"field": "s", "type": "nominal", "scale": {"type": "ordinal", "domain": ["0","1","2","3","4","5","6","7","8","9","R","M"], "range": [1,1,1,1,1,1,1,1,1,1,2,2]}, "legend": {"title": null, "labelExpr": "datum.label=='R'?'Random Chance':datum.label=='M'?'Mean ROC (AUC = 0.932)':'ROC fold '+datum.label+' (AUC = '+['0.935','0.923','0.947','0.924','0.919','0.933','0.926','0.959','0.907','0.951'][toNumber(datum.label)]+')'"}},
"strokeDash": {"field": "s", "type": "nominal", "scale": {"domain": ["0","1","2","3","4","5","6","7","8","9","R","M"], "range": [[1,0],[1,0],[1,0],[1,0],[1,0],[1,0],[1,0],[1,0],[1,0],[1,0],[5,3],[1,0]]}, "legend": {"title": null, "labelExpr": "datum.label=='R'?'Random Chance':datum.label=='M'?'Mean ROC (AUC = 0.932)':'ROC fold '+datum.label+' (AUC = '+['0.935','0.923','0.947','0.924','0.919','0.933','0.926','0.959','0.907','0.951'][toNumber(datum.label)]+')'"}}
}},
{"data": {"name": "d"}, "width": 300, "height": 195,
"title": {"text": ["d. Model 3.1", "Horizontal Flip"], "subtitle": "Cross Validated ROC Curve"},
"mark": {"type": "line"},
"encoding": {
"x": {"field": "x", "type": "quantitative", "scale": {"domain": [-0.05, 1.05], "nice": false, "zero": false}, "axis": {"title": "False Positive Rate", "values": [0, 0.2, 0.4, 0.6, 0.8, 1], "format": ".1f"}},
"y": {"field": "y", "type": "quantitative", "scale": {"domain": [-0.05, 1.05], "nice": false, "zero": false}, "axis": {"title": "True Positive Rate", "values": [0, 0.2, 0.4, 0.6, 0.8, 1], "format": ".1f"}},
"order": {"value": null},
"color": {"field": "s", "type": "nominal", "scale": {"domain": ["0","1","2","3","4","5","6","7","8","9","R","M"], "range": ["#1f77b4","#ff7f0e","#2ca02c","#d62728","#9467bd","#8c564b","#e377c2","#7f7f7f","#bcbd22","#17becf","#ff0000","#0000ff"]}, "legend": {"title": null, "labelExpr": "datum.label=='R'?'Random Chance':datum.label=='M'?'Mean ROC (AUC = 0.956)':'ROC fold '+datum.label+' (AUC = '+['0.954','0.956','0.950','0.961','0.948','0.953','0.955','0.961','0.956','0.969'][toNumber(datum.label)]+')'"}},
"opacity": {"field": "s", "type": "nominal", "scale": {"type": "ordinal", "domain": ["0","1","2","3","4","5","6","7","8","9","R","M"], "range": [0.3,0.3,0.3,0.3,0.3,0.3,0.3,0.3,0.3,0.3,0.8,0.8]}, "legend": {"title": null, "labelExpr": "datum.label=='R'?'Random Chance':datum.label=='M'?'Mean ROC (AUC = 0.956)':'ROC fold '+datum.label+' (AUC = '+['0.954','0.956','0.950','0.961','0.948','0.953','0.955','0.961','0.956','0.969'][toNumber(datum.label)]+')'"}},
"strokeWidth": {"field": "s", "type": "nominal", "scale": {"type": "ordinal", "domain": ["0","1","2","3","4","5","6","7","8","9","R","M"], "range": [1,1,1,1,1,1,1,1,1,1,2,2]}, "legend": {"title": null, "labelExpr": "datum.label=='R'?'Random Chance':datum.label=='M'?'Mean ROC (AUC = 0.956)':'ROC fold '+datum.label+' (AUC = '+['0.954','0.956','0.950','0.961','0.948','0.953','0.955','0.961','0.956','0.969'][toNumber(datum.label)]+')'"}},
"strokeDash": {"field": "s", "type": "nominal", "scale": {"domain": ["0","1","2","3","4","5","6","7","8","9","R","M"], "range": [[1,0],[1,0],[1,0],[1,0],[1,0],[1,0],[1,0],[1,0],[1,0],[1,0],[5,3],[1,0]]}, "legend": {"title": null, "labelExpr": "datum.label=='R'?'Random Chance':datum.label=='M'?'Mean ROC (AUC = 0.956)':'ROC fold '+datum.label+' (AUC = '+['0.954','0.956','0.950','0.961','0.948','0.953','0.955','0.961','0.956','0.969'][toNumber(datum.label)]+')'"}}
}}
], "spacing": 12, "resolve": {"scale": {"color": "independent", "opacity": "independent", "strokeWidth": "independent", "strokeDash": "independent"}}}
], "spacing": 7, "resolve": {"scale": {"color": "independent", "opacity": "independent", "strokeWidth": "independent", "strokeDash": "independent"}}},
{"hconcat": [
{"data": {"name": "e"}, "width": 300, "height": 195,
"title": {"text": ["e. Model 3.2", "Vertical Flip"], "subtitle": "Cross Validated ROC Curve", "subtitlePadding": 11},
"mark": {"type": "line"},
"encoding": {
"x": {"field": "x", "type": "quantitative", "scale": {"domain": [-0.05, 1.05], "nice": false, "zero": false}, "axis": {"title": "False Positive Rate", "values": [0, 0.2, 0.4, 0.6, 0.8, 1], "format": ".1f"}},
"y": {"field": "y", "type": "quantitative", "scale": {"domain": [-0.05, 1.05], "nice": false, "zero": false}, "axis": {"title": "True Positive Rate", "values": [0, 0.2, 0.4, 0.6, 0.8, 1], "format": ".1f"}},
"order": {"value": null},
"color": {"field": "s", "type": "nominal", "scale": {"domain": ["0","1","2","3","4","5","6","7","8","9","R","M"], "range": ["#1f77b4","#ff7f0e","#2ca02c","#d62728","#9467bd","#8c564b","#e377c2","#7f7f7f","#bcbd22","#17becf","#ff0000","#0000ff"]}, "legend": {"title": null, "labelExpr": "datum.label=='R'?'Random Chance':datum.label=='M'?'Mean ROC (AUC = 0.919)':'ROC fold '+datum.label+' (AUC = '+['0.928','0.956','0.926','0.897','0.874','0.924','0.921','0.914','0.944','0.918'][toNumber(datum.label)]+')'"}},
"opacity": {"field": "s", "type": "nominal", "scale": {"type": "ordinal", "domain": ["0","1","2","3","4","5","6","7","8","9","R","M"], "range": [0.3,0.3,0.3,0.3,0.3,0.3,0.3,0.3,0.3,0.3,0.8,0.8]}, "legend": {"title": null, "labelExpr": "datum.label=='R'?'Random Chance':datum.label=='M'?'Mean ROC (AUC = 0.919)':'ROC fold '+datum.label+' (AUC = '+['0.928','0.956','0.926','0.897','0.874','0.924','0.921','0.914','0.944','0.918'][toNumber(datum.label)]+')'"}},
"strokeWidth": {"field": "s", "type": "nominal", "scale": {"type": "ordinal", "domain": ["0","1","2","3","4","5","6","7","8","9","R","M"], "range": [1,1,1,1,1,1,1,1,1,1,2,2]}, "legend": {"title": null, "labelExpr": "datum.label=='R'?'Random Chance':datum.label=='M'?'Mean ROC (AUC = 0.919)':'ROC fold '+datum.label+' (AUC = '+['0.928','0.956','0.926','0.897','0.874','0.924','0.921','0.914','0.944','0.918'][toNumber(datum.label)]+')'"}},
"strokeDash": {"field": "s", "type": "nominal", "scale": {"domain": ["0","1","2","3","4","5","6","7","8","9","R","M"], "range": [[1,0],[1,0],[1,0],[1,0],[1,0],[1,0],[1,0],[1,0],[1,0],[1,0],[5,3],[1,0]]}, "legend": {"title": null, "labelExpr": "datum.label=='R'?'Random Chance':datum.label=='M'?'Mean ROC (AUC = 0.919)':'ROC fold '+datum.label+' (AUC = '+['0.928','0.956','0.926','0.897','0.874','0.924','0.921','0.914','0.944','0.918'][toNumber(datum.label)]+')'"}}
}},
{"data": {"name": "f"}, "width": 300, "height": 195,
"title": {"text": ["f. Model 4.1", "SV Perturbations"], "subtitle": "Cross Validated ROC Curve", "subtitlePadding": 11},
"mark": {"type": "line"},
"encoding": {
"x": {"field": "x", "type": "quantitative", "scale": {"domain": [-0.05, 1.05], "nice": false, "zero": false}, "axis": {"title": "False Positive Rate", "values": [0, 0.2, 0.4, 0.6, 0.8, 1], "format": ".1f"}},
"y": {"field": "y", "type": "quantitative", "scale": {"domain": [-0.05, 1.05], "nice": false, "zero": false}, "axis": {"title": "True Positive Rate", "values": [0, 0.2, 0.4, 0.6, 0.8, 1], "format": ".1f"}},
"order": {"value": null},
"color": {"field": "s", "type": "nominal", "scale": {"domain": ["0","1","2","3","4","5","6","7","8","9","R","M"], "range": ["#1f77b4","#ff7f0e","#2ca02c","#d62728","#9467bd","#8c564b","#e377c2","#7f7f7f","#bcbd22","#17becf","#ff0000","#0000ff"]}, "legend": {"title": null, "labelExpr": "datum.label=='R'?'Random Chance':datum.label=='M'?'Mean ROC (AUC = 0.940)':'ROC fold '+datum.label+' (AUC = '+['0.908','0.963','0.929','0.932','0.927','0.940','0.947','0.960','0.938','0.952'][toNumber(datum.label)]+')'"}},
"opacity": {"field": "s", "type": "nominal", "scale": {"type": "ordinal", "domain": ["0","1","2","3","4","5","6","7","8","9","R","M"], "range": [0.3,0.3,0.3,0.3,0.3,0.3,0.3,0.3,0.3,0.3,0.8,0.8]}, "legend": {"title": null, "labelExpr": "datum.label=='R'?'Random Chance':datum.label=='M'?'Mean ROC (AUC = 0.940)':'ROC fold '+datum.label+' (AUC = '+['0.908','0.963','0.929','0.932','0.927','0.940','0.947','0.960','0.938','0.952'][toNumber(datum.label)]+')'"}},
"strokeWidth": {"field": "s", "type": "nominal", "scale": {"type": "ordinal", "domain": ["0","1","2","3","4","5","6","7","8","9","R","M"], "range": [1,1,1,1,1,1,1,1,1,1,2,2]}, "legend": {"title": null, "labelExpr": "datum.label=='R'?'Random Chance':datum.label=='M'?'Mean ROC (AUC = 0.940)':'ROC fold '+datum.label+' (AUC = '+['0.908','0.963','0.929','0.932','0.927','0.940','0.947','0.960','0.938','0.952'][toNumber(datum.label)]+')'"}},
"strokeDash": {"field": "s", "type": "nominal", "scale": {"domain": ["0","1","2","3","4","5","6","7","8","9","R","M"], "range": [[1,0],[1,0],[1,0],[1,0],[1,0],[1,0],[1,0],[1,0],[1,0],[1,0],[5,3],[1,0]]}, "legend": {"title": null, "labelExpr": "datum.label=='R'?'Random Chance':datum.label=='M'?'Mean ROC (AUC = 0.940)':'ROC fold '+datum.label+' (AUC = '+['0.908','0.963','0.929','0.932','0.927','0.940','0.947','0.960','0.938','0.952'][toNumber(datum.label)]+')'"}}
}}
], "spacing": 12, "resolve": {"scale": {"color": "independent", "opacity": "independent", "strokeWidth": "independent", "strokeDash": "independent"}}}
],
"spacing": 13,
"resolve": {"scale": {"color": "independent", "opacity": "independent", "strokeWidth": "independent", "strokeDash": "independent"}},
"config": {
"font": "DejaVu Sans",
"view": {"stroke": "#333333", "strokeWidth": 1},
"axis": {"domain": false, "grid": false, "tickColor": "#333333", "tickSize": 3.5, "tickWidth": 0.8, "labelFont": "DejaVu Sans", "labelFontSize": 9.5, "labelColor": "#333333", "labelPadding": 2, "titleFont": "DejaVu Sans", "titleFontSize": 8.7, "titleFontWeight": "normal", "titleColor": "#333333", "titlePadding": 3},
"title": {"font": "Liberation Sans", "fontSize": 13.5, "fontWeight": "bold", "color": "#000000", "lineHeight": 17.5, "subtitleFont": "DejaVu Sans", "subtitleFontSize": 10.7, "subtitleColor": "#262626", "subtitlePadding": 5, "offset": 3, "anchor": "middle", "frame": "group"},
"legend": {"orient": "bottom-right", "offset": 6, "padding": 2, "fillColor": "rgba(255,255,255,0.85)", "strokeColor": "#cccccc", "cornerRadius": 2, "labelFont": "DejaVu Sans", "labelFontSize": 7, "labelColor": "#333333", "labelLimit": 200, "symbolType": "M-2,0H2", "symbolSize": 64, "rowPadding": 3.4, "labelOffset": 9, "symbolOffset": 4}
}
}
